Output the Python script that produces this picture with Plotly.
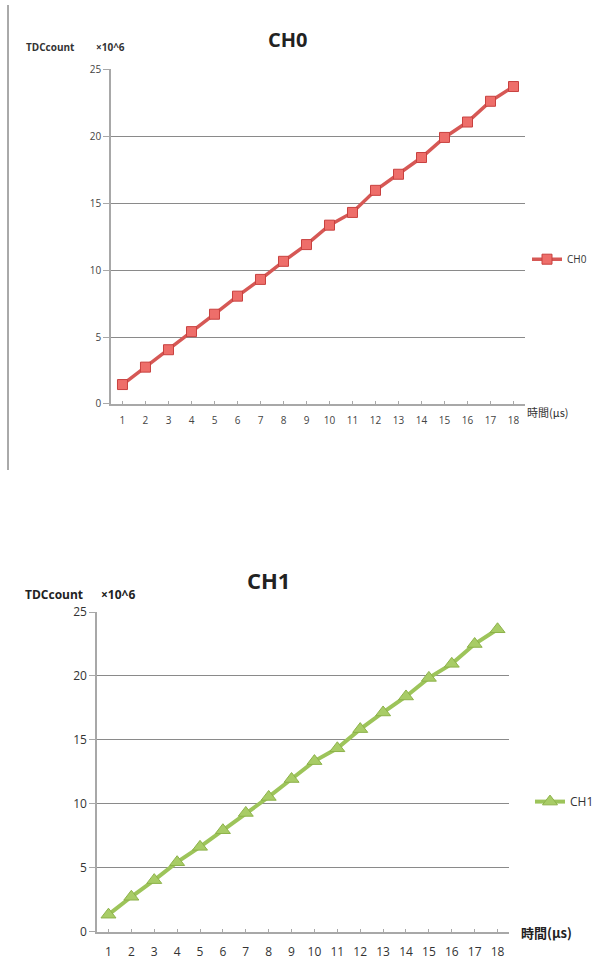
import plotly.graph_objects as go

time_us = list(range(1, 19))
ch0_counts = [1.45, 2.75, 4.05, 5.4, 6.7, 8.05, 9.3, 10.65, 11.9, 13.35, 14.3, 15.95, 17.15, 18.4, 19.9, 21.05, 22.6, 23.7]
ch1_counts = [1.35, 2.75, 4.05, 5.45, 6.65, 7.95, 9.3, 10.55, 11.95, 13.35, 14.35, 15.85, 17.15, 18.4, 19.85, 20.95, 22.5, 23.65]
y_ticks = [0, 5, 10, 15, 20, 25]

FONT = "Open Sans, Liberation Sans, sans-serif"
CJK = "Noto Sans CJK JP, Noto Sans CJK SC, sans-serif"

fig = go.Figure()
fig.add_trace(go.Scatter(
    x=time_us, y=ch0_counts, mode="lines+markers", name="CH0",
    line=dict(color="#D65855", width=3.5),
    marker=dict(symbol="square", size=10, color="#EE6E6A", line=dict(color="#C8413F", width=1)),
    xaxis="x", yaxis="y", legend="legend",
))
fig.add_trace(go.Scatter(
    x=time_us, y=ch1_counts, mode="lines+markers", name="CH1",
    line=dict(color="#9DC45A", width=4),
    marker=dict(symbol="triangle-up", size=13, color="#A8CC66", line=dict(color="#8DB24A", width=1)),
    xaxis="x2", yaxis="y2", legend="legend2",
))

axis_common = dict(showgrid=False, zeroline=False, showline=True, linecolor="#A8A8A8", linewidth=1.5,
                   ticks="inside", ticklen=3, tickcolor="#A8A8A8", range=[0.5, 18.5],
                   tickmode="array", tickvals=time_us, ticktext=[str(t) for t in time_us])
yaxis_common = dict(range=[0, 25], tickvals=y_ticks, showgrid=True, gridcolor="#8A8A8A", gridwidth=1,
                    zeroline=False, showline=True, linecolor="#A8A8A8", linewidth=1.5, ticks="outside",
                    ticklen=6, tickcolor="#A8A8A8")

fig.update_layout(
    width=596, height=960, margin=dict(l=0, r=0, t=0, b=0, autoexpand=False),
    paper_bgcolor="white", plot_bgcolor="white",
    font=dict(family=FONT, color="#333333"),
    xaxis=dict(domain=[0.1862, 0.8809], anchor="y", tickfont=dict(size=10, color="#444"),
               ticklabelstandoff=6, **axis_common),
    yaxis=dict(domain=[0.5792, 0.928], anchor="x", tickfont=dict(size=10, color="#444"), **yaxis_common),
    xaxis2=dict(domain=[0.1628, 0.854], anchor="y2", tickfont=dict(size=12, color="#333"),
                ticklabelstandoff=8, **axis_common),
    yaxis2=dict(domain=[0.0292, 0.3625], anchor="x2", tickfont=dict(size=12, color="#333"), **yaxis_common),
    legend=dict(x=527 / 596, y=0.730, xanchor="left", yanchor="middle", font=dict(size=10, color="#333"),
                bgcolor="rgba(0,0,0,0)", itemwidth=30, tracegroupgap=0),
    legend2=dict(x=530 / 596, y=0.165, xanchor="left", yanchor="middle", font=dict(size=12, color="#333"),
                 bgcolor="rgba(0,0,0,0)", itemwidth=30, tracegroupgap=0),
    showlegend=True,
)

annotations = [
    dict(text="<b>CH0</b>", x=287 / 596, y=1 - 40 / 960, font=dict(size=20, color="#222")),
    dict(text="<b>CH1</b>", x=268 / 596, y=1 - 580 / 960, font=dict(size=22, color="#222")),
    dict(text="<b>TDCcount</b>", x=50 / 596, y=1 - 47 / 960, font=dict(size=10, color="#333")),
    dict(text="<b>×10^6</b>", x=110 / 596, y=1 - 47 / 960, font=dict(size=10, color="#333")),
    dict(text="<b>TDCcount</b>", x=54 / 596, y=1 - 594 / 960, font=dict(size=12, color="#222")),
    dict(text="<b>×10^6</b>", x=118 / 596, y=1 - 594 / 960, font=dict(size=12, color="#222")),
    dict(text="時間(μs)", x=548 / 596, y=1 - 412 / 960, font=dict(size=11, color="#333", family=CJK)),
    dict(text="<b>時間(μs)</b>", x=546 / 596, y=1 - 932 / 960, font=dict(size=13, color="#222", family=CJK)),
]
for a in annotations:
    fig.add_annotation(xref="paper", yref="paper", showarrow=False, xanchor="center", yanchor="middle", **a)

fig.add_shape(type="line", xref="paper", yref="paper", x0=8 / 596, x1=8 / 596,
              y0=1 - 5 / 960, y1=1 - 470 / 960, line=dict(color="#555", width=1))

fig.write_html("out.html")
